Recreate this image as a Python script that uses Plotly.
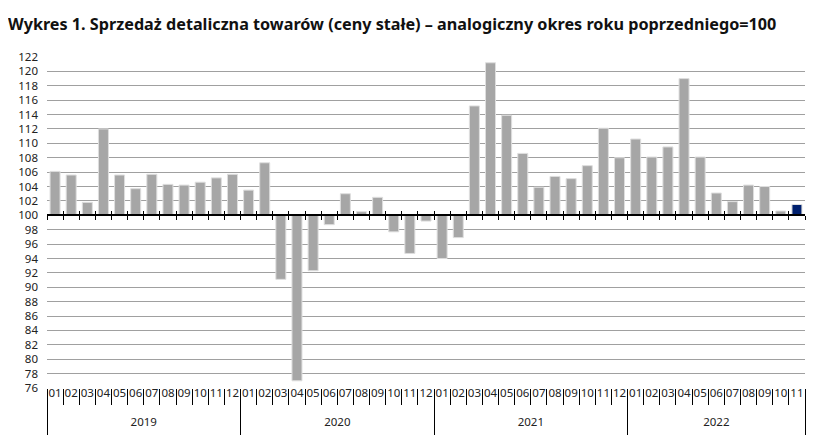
import plotly.graph_objects as go

# rok / miesiąc
years = ["2019"] * 12 + ["2020"] * 12 + ["2021"] * 12 + ["2022"] * 11
months = ["01", "02", "03", "04", "05", "06", "07", "08", "09", "10", "11", "12"] * 3 + \
         ["01", "02", "03", "04", "05", "06", "07", "08", "09", "10", "11"]

# analogiczny okres roku poprzedniego = 100
values = [
    106.1, 105.6, 101.8, 112.0, 105.6, 103.7, 105.7, 104.3, 104.2, 104.6, 105.2, 105.7,
    103.5, 107.3, 91.1, 77.0, 92.3, 98.7, 103.0, 100.5, 102.5, 97.7, 94.7, 99.2,
    94.0, 96.9, 115.2, 121.2, 113.9, 108.6, 103.9, 105.4, 105.1, 106.9, 112.1, 108.0,
    110.6, 108.1, 109.5, 119.0, 108.1, 103.1, 101.9, 104.2, 104.0, 100.6, 101.5,
]

base = 100
y_min, y_max = 76, 122

n = len(values)
idx = list(range(n))
bounds = [i - 0.5 for i in idx] + [n - 0.5]

# środki i granice lat
year_names = sorted(set(years))
year_mid = []
year_bounds = [-0.5]
for yr in year_names:
    pos = [i for i in idx if years[i] == yr]
    year_mid.append((pos[0] + pos[-1]) / 2)
    year_bounds.append(pos[-1] + 0.5)

colors = ["#a6a6a6"] * (n - 1) + ["#00206e"]
xr = [-0.5, n - 0.5]

fig = go.Figure()

fig.add_trace(
    go.Bar(
        x=idx,
        y=[v - base for v in values],
        base=base,
        marker=dict(color=colors, line=dict(color="#dedede", width=1)),
        customdata=[f"{y}-{m}: {v}" for y, m, v in zip(years, months, values)],
        hovertemplate="%{customdata}<extra></extra>",
    )
)

# niewidoczne serie dla osi pomocniczych
for ax in ["x2", "x3", "x4", "x5"]:
    fig.add_trace(
        go.Scatter(
            x=idx, y=values, xaxis=ax, mode="markers",
            marker=dict(opacity=0), hoverinfo="skip", showlegend=False,
        )
    )

pos100 = (base - y_min) / (y_max - y_min)
plot_h = 439 - 49 - 59

fig.update_layout(
    width=832,
    height=439,
    margin=dict(l=39, r=35, t=49, b=59),
    plot_bgcolor="white",
    paper_bgcolor="white",
    showlegend=False,
    bargap=0.38,
    font=dict(family="Noto Sans", size=12, color="#222222"),
    title=dict(
        text="<b>Wykres 1. Sprzedaż detaliczna towarów (ceny stałe) – analogiczny okres roku poprzedniego=100</b>",
        x=0.0, xanchor="left", y=0.962, yanchor="middle",
        font=dict(family="Noto Sans", size=16.2, color="#111111"),
    ),
    # etykiety miesięcy (podniesione o kilka px)
    xaxis=dict(
        range=xr,
        anchor="free",
        position=4 / plot_h,
        automargin=False,
        tickmode="array",
        tickvals=idx,
        ticktext=months,
        tickangle=0,
        ticks="",
        showgrid=False,
        showline=False,
        zeroline=False,
        tickfont=dict(size=11.5, color="#222222"),
    ),
    # kreski między miesiącami
    xaxis5=dict(
        range=xr,
        overlaying="x",
        anchor="y",
        side="bottom",
        automargin=False,
        tickmode="array",
        tickvals=bounds,
        showticklabels=False,
        ticks="outside",
        ticklen=16,
        tickcolor="black",
        showgrid=False,
        zeroline=False,
        showline=False,
    ),
    # linia 100 z kreskami w dół
    xaxis2=dict(
        range=xr,
        overlaying="x",
        anchor="free",
        position=pos100,
        automargin=False,
        tickmode="array",
        tickvals=bounds,
        showticklabels=False,
        showgrid=False,
        zeroline=False,
        showline=True,
        linecolor="black",
        linewidth=1.5,
        ticks="outside",
        ticklen=4,
        tickcolor="black",
    ),
    # kreski w górę
    xaxis3=dict(
        range=xr,
        overlaying="x",
        anchor="free",
        position=pos100,
        automargin=False,
        tickmode="array",
        tickvals=bounds,
        showticklabels=False,
        showgrid=False,
        zeroline=False,
        showline=False,
        ticks="inside",
        ticklen=4,
        tickcolor="black",
    ),
    # lata
    xaxis4=dict(
        range=xr,
        overlaying="x",
        anchor="y",
        side="bottom",
        automargin=False,
        tickmode="array",
        tickvals=year_mid,
        ticktext=year_names,
        tickangle=0,
        ticks="",
        ticklabelstandoff=25,
        showgrid=False,
        zeroline=False,
        showline=False,
        tickfont=dict(size=11.5, color="#222222"),
        minor=dict(
            tickmode="array",
            tickvals=year_bounds,
            ticks="outside",
            ticklen=46,
            tickcolor="black",
            showgrid=False,
        ),
    ),
    yaxis=dict(
        range=[y_min, y_max],
        automargin=False,
        dtick=2,
        tick0=76,
        showgrid=True,
        gridcolor="#a0a0a0",
        gridwidth=1,
        zeroline=False,
        showline=False,
        ticks="",
        ticklabelstandoff=8,
        tickfont=dict(size=11.5, color="#222222"),
    ),
)

fig.write_html("out.html")
